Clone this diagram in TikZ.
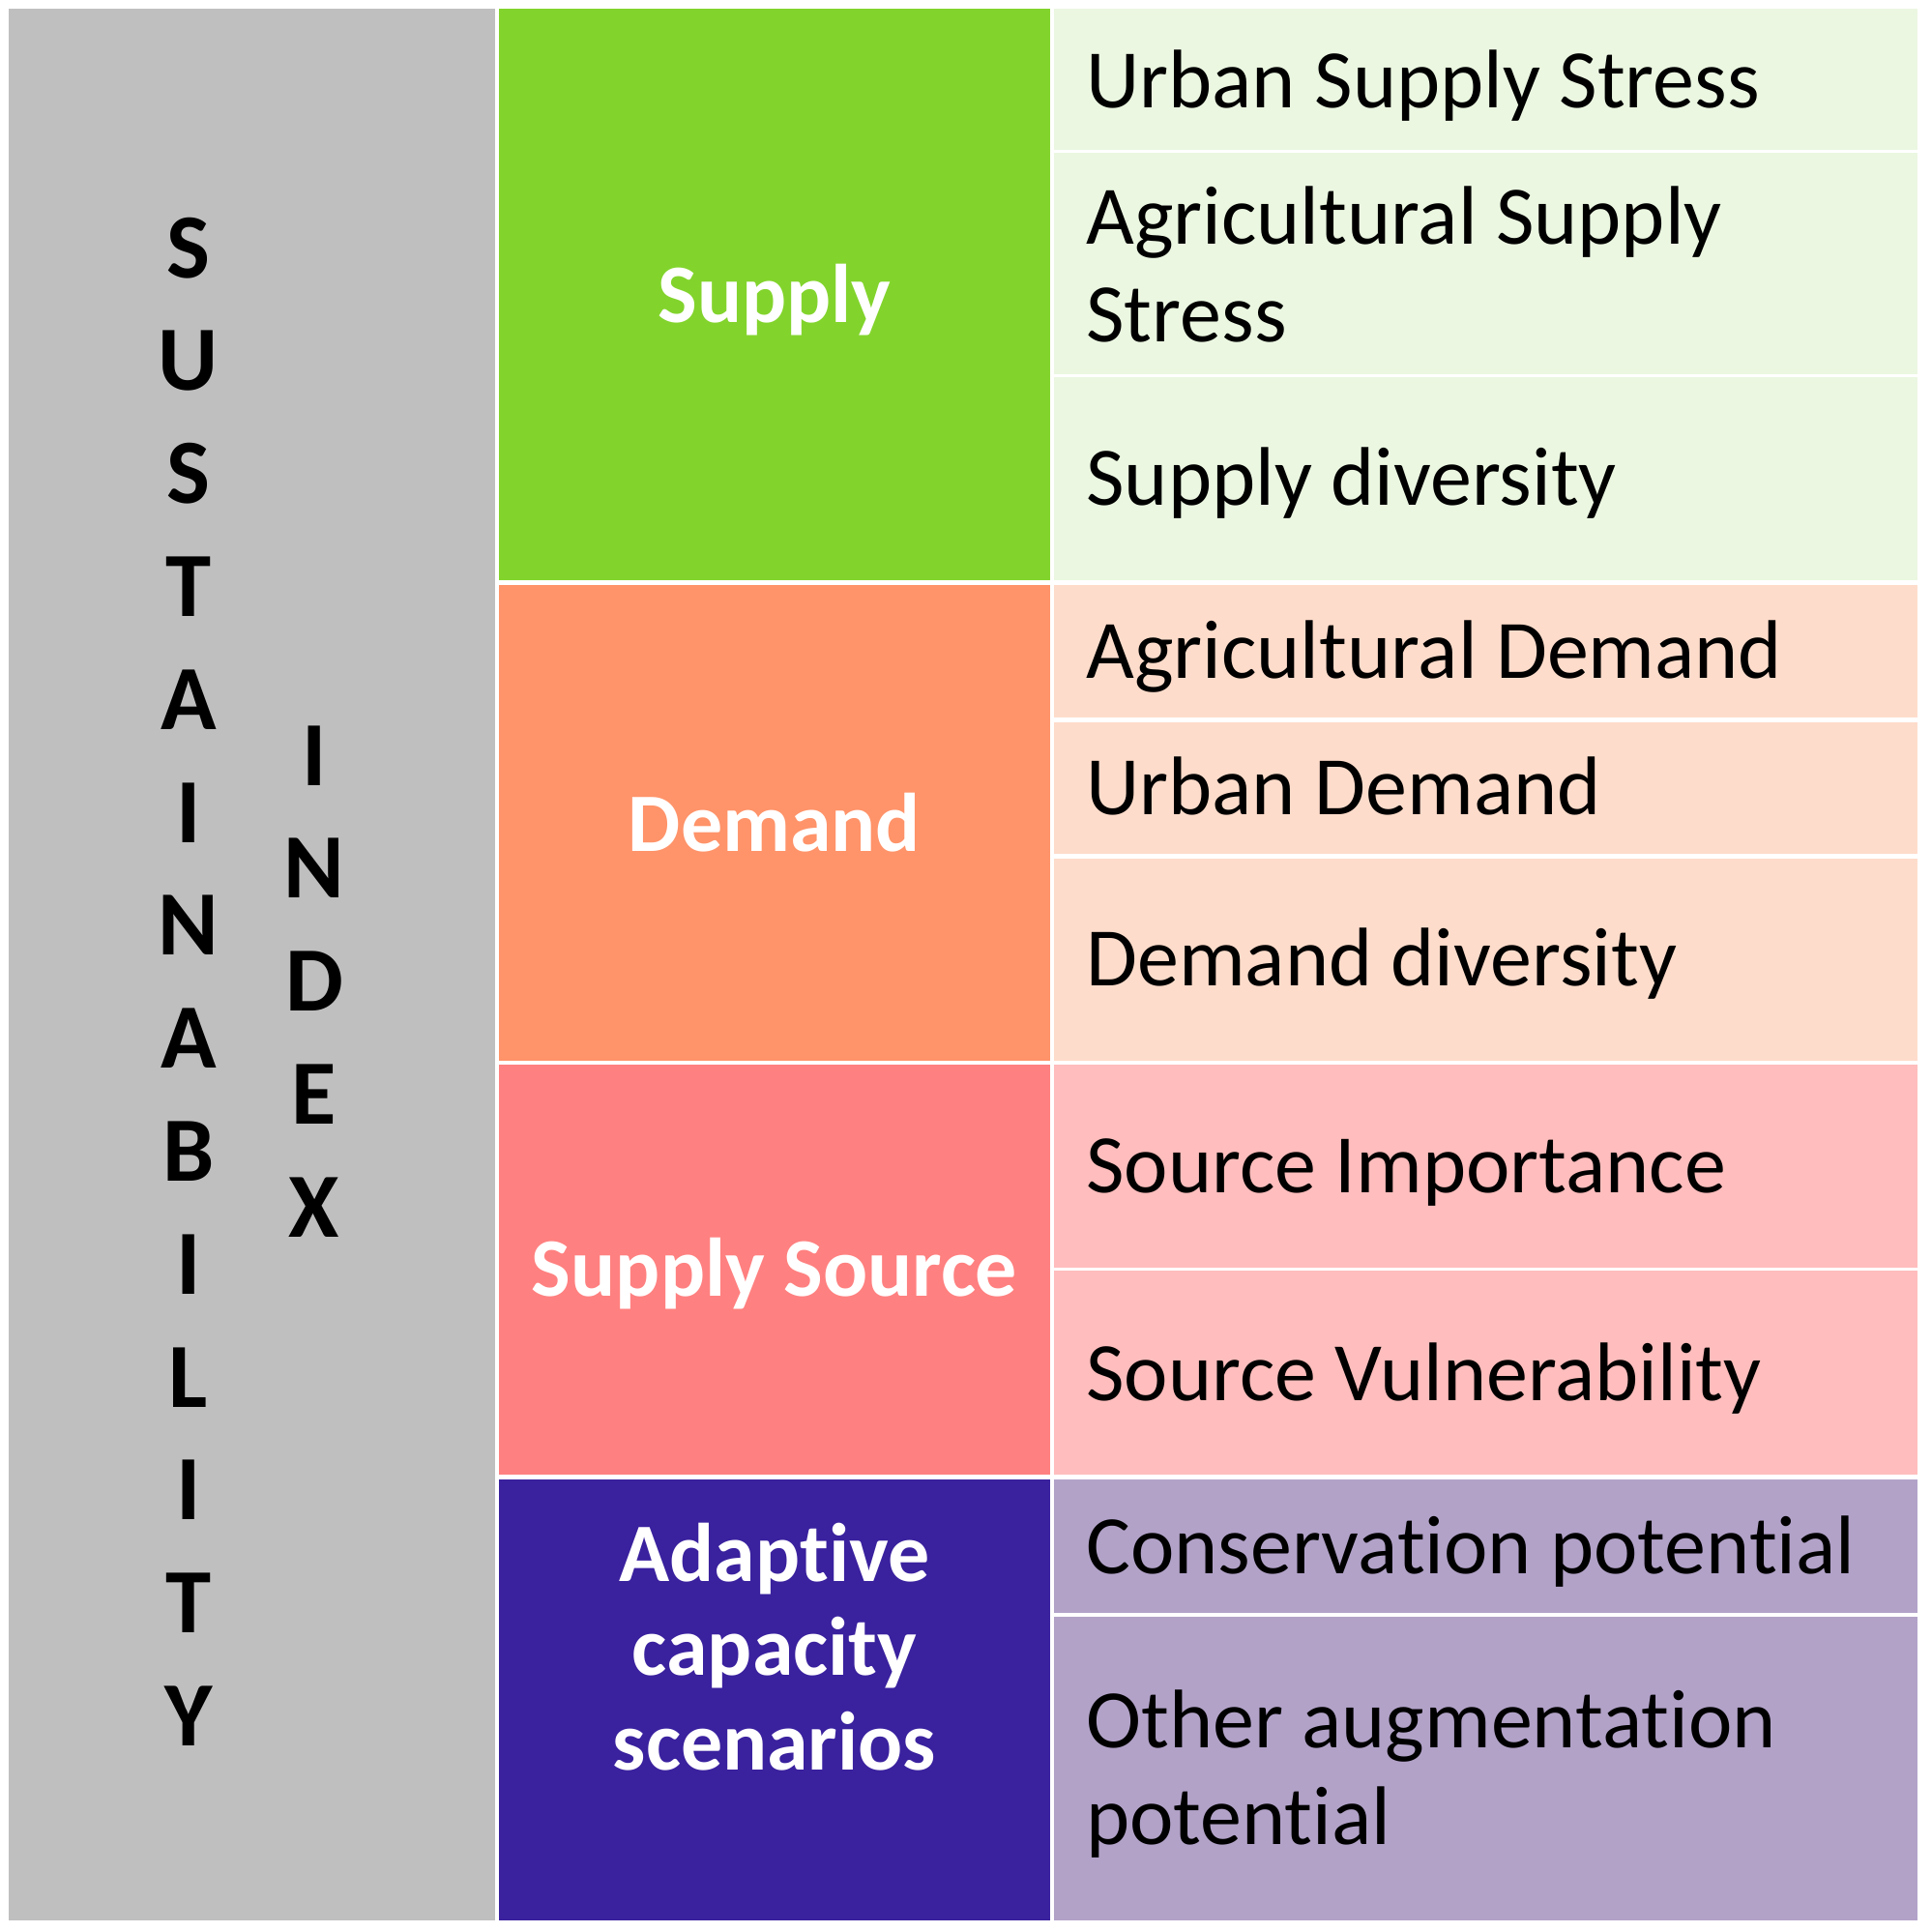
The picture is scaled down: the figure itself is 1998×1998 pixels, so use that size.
\documentclass[tikz,border=0pt]{standalone}
\usepackage{fontspec}
\setmainfont{Carlito}[Ligatures={NoCommon}]
\definecolor{cgray}{HTML}{BFBFBF}
\definecolor{cgreen}{HTML}{82D42C}
\definecolor{lgreen}{HTML}{EBF7E1}
\definecolor{corange}{HTML}{FF9369}
\definecolor{lorange}{HTML}{FEDCCB}
\definecolor{cred}{HTML}{FF8080}
\definecolor{lred}{HTML}{FFBDBD}
\definecolor{cblue}{HTML}{3A219E}
\definecolor{lpurple}{HTML}{B2A2C8}
\tikzset{
  itemtext/.style={font=\fontsize{43}{50}\selectfont, inner sep=0pt, anchor=base west, text=black},
  headtext/.style={font=\bfseries\fontsize{43}{50}\selectfont, inner sep=0pt, anchor=base, text=white},
  lettertext/.style={font=\bfseries\fontsize{47.5}{50}\selectfont, inner sep=0pt, anchor=base, text=black}
}
\begin{document}
\begin{tikzpicture}[x=0.5pt,y=-0.5pt]
\useasboundingbox (0,0) rectangle (1998,1998);
\fill[white] (0,0) rectangle (1998,1998);
% left column
\fill[cgray] (9,9) rectangle (512,1986);
% category column
\fill[cgreen]  (516,9)    rectangle (1086,600);
\fill[corange] (516,605)  rectangle (1086,1097);
\fill[cred]    (516,1101) rectangle (1086,1525);
\fill[cblue]   (516,1530) rectangle (1086,1986);
% item column
\fill[lgreen]  (1090,9)    rectangle (1983,155);
\fill[lgreen]  (1090,158)  rectangle (1983,387);
\fill[lgreen]  (1090,390)  rectangle (1983,600);
\fill[lorange] (1090,605)  rectangle (1983,742);
\fill[lorange] (1090,747)  rectangle (1983,883);
\fill[lorange] (1090,888)  rectangle (1983,1097);
\fill[lred]    (1090,1101) rectangle (1983,1311);
\fill[lred]    (1090,1314) rectangle (1983,1525);
\fill[lpurple] (1090,1530) rectangle (1983,1668);
\fill[lpurple] (1090,1672) rectangle (1983,1986);
% vertical title
\foreach \ch [count=\i] in {S,U,S,T,A,I,N,A,B,I,L,I,T,Y}
  \node[lettertext, name=s\i] at (195,{287+(\i-1)*116.8}) {\ch};
\foreach \ch [count=\i] in {I,N,D,E,X}
  \node[lettertext, name=x\i] at (325,{812+(\i-1)*116.8}) {\ch};
% category labels
\node[headtext] (supply) at (801,333) {Supply};
\node[headtext] (demand) at (801,880) {Demand};
\node[headtext] (source) at (801,1340) {Supply Source};
\node[headtext] (adapt1) at (801,1635) {Adaptive};
\node[headtext] (adapt2) at (801,1732) {capacity};
\node[headtext] (adapt3) at (801,1830) {scenarios};
% items
\node[itemtext] (i1)  at (1123,111)  {Urban Supply Stress};
\node[itemtext] (i2a) at (1123,252)  {Agricultural Supply};
\node[itemtext] (i2b) at (1123,353)  {Stress};
\node[itemtext] (i3)  at (1123,522)  {Supply diversity};
\node[itemtext] (i4)  at (1123,701)  {Agricultural Demand};
\node[itemtext] (i5)  at (1123,842)  {Urban Demand};
\node[itemtext] (i6)  at (1123,1019) {Demand diversity};
\node[itemtext] (i7)  at (1123,1233) {Source Importance};
\node[itemtext] (i8)  at (1123,1448) {Source Vulnerability};
\node[itemtext] (i9)  at (1123,1627) {Conservation potential};
\node[itemtext] (i10a) at (1123,1807) {Other augmentation};
\node[itemtext] (i10b) at (1123,1907) {potential};
\end{tikzpicture}
\end{document}
